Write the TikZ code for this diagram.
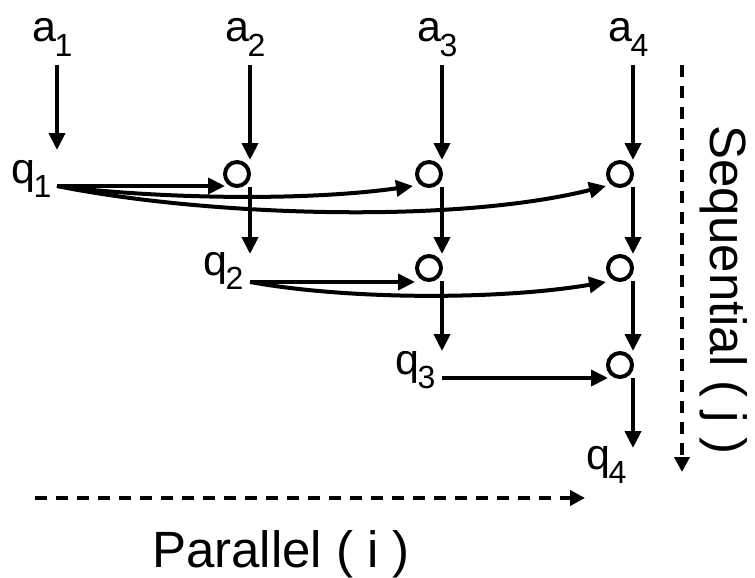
\documentclass[tikz,border=0pt]{standalone}
\usepackage{fontspec}
\setmainfont{Liberation Sans}
\usetikzlibrary{arrows.meta}
\newcommand\sbs[1]{\kern-1.5pt\raisebox{-14pt}{\fontsize{32}{32}\selectfont #1}}
\tikzset{
  lab/.style={inner sep=0pt, font=\fontsize{43}{43}\selectfont, anchor=base west},
  big/.style={inner sep=0pt, font=\fontsize{51}{51}\selectfont},
  circ/.style={circle, draw, line width=4pt, minimum size=24pt, inner sep=0pt},
  arr/.style={line width=4pt, -{Triangle[length=17pt,width=16pt]}},
  darr/.style={line width=4pt, dash pattern=on 12pt off 9pt, -{Triangle[length=15pt,width=15pt]}},
}
\begin{document}
\begin{tikzpicture}[x=1pt,y=-1pt]
\useasboundingbox (0,0) rectangle (755,578);
% column x: 57, 250, 442, 633 ; rows circle y: 174, 268, 365
\node[lab] (a1) at (32,42) {a\sbs{1}};
\node[lab] (a2) at (225,42) {a\sbs{2}};
\node[lab] (a3) at (417,42) {a\sbs{3}};
\node[lab] (a4) at (608,42) {a\sbs{4}};
\node[lab] (q1) at (11,183) {q\sbs{1}};
\node[lab] (q2) at (203,275) {q\sbs{2}};
\node[lab] (q3) at (395,374) {q\sbs{3}};
\node[lab] (q4) at (586,469) {q\sbs{4}};
% circles
\node[circ] (c12) at (237,174) {};
\node[circ] (c13) at (429,174) {};
\node[circ] (c14) at (620,174) {};
\node[circ] (c23) at (429,268) {};
\node[circ] (c24) at (620,268) {};
\node[circ] (c34) at (620,365) {};
% column end points
\coordinate (a1s) at (57,65);  \coordinate (a2s) at (250,65);
\coordinate (a3s) at (442,65); \coordinate (a4s) at (633,65);
\coordinate (q1t) at (57,150); \coordinate (q2t) at (250,254);
\coordinate (q3t) at (442,351); \coordinate (q4t) at (633,448);
\coordinate (c12t) at (250,160); \coordinate (c12b) at (250,187);
\coordinate (c13t) at (442,160); \coordinate (c13b) at (442,187);
\coordinate (c14t) at (633,160); \coordinate (c14b) at (633,187);
\coordinate (c23t) at (442,254); \coordinate (c23b) at (442,281);
\coordinate (c24t) at (633,254); \coordinate (c24b) at (633,281);
\coordinate (c34t) at (633,351); \coordinate (c34b) at (633,378);
% row start / end points
\coordinate (q1r) at (57,186); \coordinate (q2r) at (250,282); \coordinate (q3r) at (442,378);
\coordinate (c12l) at (225,186); \coordinate (c13l) at (413,186); \coordinate (c14l) at (606,186);
\coordinate (c23l) at (415,282); \coordinate (c24l) at (606,282); \coordinate (c34l) at (608,378);
% vertical arrows
\draw[arr] (a1s) -- (q1t);
\draw[arr] (a2s) -- (c12t);
\draw[arr] (c12b) -- (q2t);
\draw[arr] (a3s) -- (c13t);
\draw[arr] (c13b) -- (c23t);
\draw[arr] (c23b) -- (q3t);
\draw[arr] (a4s) -- (c14t);
\draw[arr] (c14b) -- (c24t);
\draw[arr] (c24b) -- (c34t);
\draw[arr] (c34b) -- (q4t);
% horizontal arrows
\draw[arr] (q1r) -- (c12l);
\draw[arr] (q1r) .. controls (150,198) and (300,202) .. (c13l);
\draw[arr] (q1r) .. controls (200,215) and (450,225) .. (c14l);
\draw[arr] (q2r) -- (c23l);
\draw[arr] (q2r) .. controls (350,300) and (500,300) .. (c24l);
\draw[arr] (q3r) -- (c34l);
% axes
\coordinate (sq0) at (682,65); \coordinate (sq1) at (682,472);
\coordinate (pa0) at (35,498); \coordinate (pa1) at (585,498);
\draw[darr] (sq0) -- (sq1);
\draw[darr] (pa0) -- (pa1);
\node[big, rotate=-90] (seq) at (724,290) {Sequential ( j )};
\node[big] (par) at (281,554) {Parallel ( i )};
\end{tikzpicture}
\end{document}
